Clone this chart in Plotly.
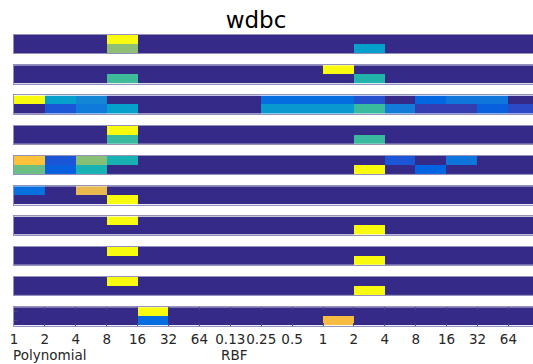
import plotly.graph_objects as go

# ---- data ----
tick_labels = ["1", "2", "4", "8", "16", "32", "64",
               "0.13", "0.25", "0.5", "1", "2", "4", "8", "16", "32", "64"]
title_text = "wdbc"
group_labels = ["Polynomial", "RBF"]

s1_top = [0, 0, 0, 1, 0, 0, 0, 0, 0, 0, 0, 0, 0, 0, 0, 0, 0]
s1_bot = [0, 0, 0, 0.63, 0, 0, 0, 0, 0, 0, 0, 0.35, 0, 0, 0, 0, 0]
s2_top = [0, 0, 0, 0, 0, 0, 0, 0, 0, 0, 1, 0, 0, 0, 0, 0, 0]
s2_bot = [0, 0, 0, 0.52, 0, 0, 0, 0, 0, 0, 0, 0.47, 0, 0, 0, 0, 0]
s3_top = [1, 0.35, 0.26, 0, 0, 0, 0, 0, 0.16, 0.16, 0.16, 0.09, 0, 0.14, 0.20, 0.20, 0]
s3_bot = [0, 0.10, 0.21, 0.35, 0, 0, 0, 0, 0.32, 0.32, 0.32, 0.51, 0.22, 0.05, 0.05, 0.12, 0.08]
s4_top = [0, 0, 0, 1, 0, 0, 0, 0, 0, 0, 0, 0, 0, 0, 0, 0, 0]
s4_bot = [0, 0, 0, 0.51, 0, 0, 0, 0, 0, 0, 0, 0.51, 0, 0, 0, 0, 0]
s5_top = [0.85, 0.10, 0.62, 0.45, 0, 0, 0, 0, 0, 0, 0, 0, 0.10, 0, 0.19, 0, 0]
s5_bot = [0.58, 0.12, 0.45, 0, 0, 0, 0, 0, 0, 0, 0, 1, 0, 0.13, 0, 0, 0]
s6_top = [0.17, 0, 0.79, 0, 0, 0, 0, 0, 0, 0, 0, 0, 0, 0, 0, 0, 0]
s6_bot = [0, 0, 0, 1, 0, 0, 0, 0, 0, 0, 0, 0, 0, 0, 0, 0, 0]
s7_top = [0, 0, 0, 1, 0, 0, 0, 0, 0, 0, 0, 0, 0, 0, 0, 0, 0]
s7_bot = [0, 0, 0, 0, 0, 0, 0, 0, 0, 0, 0, 1, 0, 0, 0, 0, 0]
s8_top = [0, 0, 0, 1, 0, 0, 0, 0, 0, 0, 0, 0, 0, 0, 0, 0, 0]
s8_bot = [0, 0, 0, 0, 0, 0, 0, 0, 0, 0, 0, 1, 0, 0, 0, 0, 0]
s9_top = [0, 0, 0, 1, 0, 0, 0, 0, 0, 0, 0, 0, 0, 0, 0, 0, 0]
s9_bot = [0, 0, 0, 0, 0, 0, 0, 0, 0, 0, 0, 1, 0, 0, 0, 0, 0]
s10_top = [0, 0, 0, 0, 1, 0, 0, 0, 0, 0, 0, 0, 0, 0, 0, 0, 0]
s10_bot = [0, 0, 0, 0, 0.16, 0, 0, 0, 0, 0, 0.83, 0, 0, 0, 0, 0, 0]

strips = [(s1_top, s1_bot), (s2_top, s2_bot), (s3_top, s3_bot), (s4_top, s4_bot),
          (s5_top, s5_bot), (s6_top, s6_bot), (s7_top, s7_bot), (s8_top, s8_bot),
          (s9_top, s9_bot), (s10_top, s10_bot)]

# ---- parula colormap (style) ----
parula = [
    [0.2081, 0.1663, 0.5292], [0.2116, 0.1898, 0.5777], [0.2123, 0.2138, 0.6270],
    [0.2081, 0.2386, 0.6771], [0.1959, 0.2645, 0.7279], [0.1707, 0.2919, 0.7792],
    [0.1253, 0.3242, 0.8303], [0.0591, 0.3598, 0.8683], [0.0117, 0.3875, 0.8820],
    [0.0060, 0.4086, 0.8828], [0.0165, 0.4266, 0.8786], [0.0329, 0.4430, 0.8720],
    [0.0498, 0.4586, 0.8641], [0.0629, 0.4737, 0.8554], [0.0723, 0.4887, 0.8467],
    [0.0779, 0.5040, 0.8384], [0.0793, 0.5200, 0.8312], [0.0749, 0.5375, 0.8263],
    [0.0641, 0.5570, 0.8240], [0.0488, 0.5772, 0.8228], [0.0343, 0.5966, 0.8199],
    [0.0265, 0.6137, 0.8135], [0.0239, 0.6287, 0.8038], [0.0231, 0.6418, 0.7913],
    [0.0228, 0.6535, 0.7768], [0.0267, 0.6642, 0.7607], [0.0384, 0.6743, 0.7436],
    [0.0590, 0.6838, 0.7254], [0.0843, 0.6928, 0.7062], [0.1133, 0.7015, 0.6859],
    [0.1453, 0.7098, 0.6646], [0.1801, 0.7177, 0.6424], [0.2178, 0.7250, 0.6193],
    [0.2586, 0.7317, 0.5954], [0.3022, 0.7376, 0.5712], [0.3482, 0.7424, 0.5473],
    [0.3953, 0.7459, 0.5244], [0.4420, 0.7481, 0.5033], [0.4871, 0.7491, 0.4840],
    [0.5300, 0.7491, 0.4661], [0.5709, 0.7485, 0.4494], [0.6099, 0.7473, 0.4337],
    [0.6473, 0.7456, 0.4188], [0.6834, 0.7435, 0.4044], [0.7184, 0.7411, 0.3905],
    [0.7525, 0.7384, 0.3768], [0.7858, 0.7356, 0.3633], [0.8185, 0.7327, 0.3498],
    [0.8507, 0.7299, 0.3360], [0.8824, 0.7274, 0.3217], [0.9139, 0.7258, 0.3063],
    [0.9450, 0.7261, 0.2886], [0.9739, 0.7314, 0.2666], [0.9938, 0.7455, 0.2403],
    [0.9990, 0.7653, 0.2164], [0.9955, 0.7861, 0.1967], [0.9880, 0.8066, 0.1794],
    [0.9789, 0.8271, 0.1633], [0.9697, 0.8481, 0.1475], [0.9626, 0.8705, 0.1309],
    [0.9589, 0.8949, 0.1132], [0.9598, 0.9218, 0.0948], [0.9661, 0.9514, 0.0755],
    [0.9763, 0.9831, 0.0538]]
n = len(parula)
colorscale = [[i / (n - 1), "rgb(%d,%d,%d)" % tuple(round(c * 255) for c in rgb)]
              for i, rgb in enumerate(parula)]

W, H = 533, 364
left_px = 14
cell_px = 30.9
x_max = (W - left_px) / cell_px

top0 = 35.0
pitch = 30.24
strip_h = 18.4

fig = go.Figure()
border = "#9391bd"
tick_font = dict(family="DejaVu Sans", size=13.5, color="#262626")
layout = {}
for k, (top, bot) in enumerate(strips):
    idx = "" if k == 0 else str(k + 1)
    fig.add_trace(go.Heatmap(
        z=[top, bot], x0=0.5, dx=1, y=[0, 1],
        colorscale=colorscale, zmin=0, zmax=1, showscale=False,
        xaxis="x" + idx, yaxis="y" + idx, hoverinfo="skip"))
    t_px = top0 + k * pitch
    b_px = t_px + strip_h
    last = (k == len(strips) - 1)
    layout["xaxis" + idx] = dict(
        domain=[0, 1], range=[0, x_max], anchor="y" + idx,
        showgrid=False, zeroline=False, showline=True, linecolor=border,
        linewidth=1, mirror=("ticks" if last else True),
        tickvals=list(range(len(tick_labels))) if last else [],
        ticktext=tick_labels if last else [],
        ticks="inside" if last else "", ticklen=3, tickcolor="#4a4878", tickwidth=1,
        showticklabels=last, tickangle=0, ticklabelstandoff=1,
        tickfont=tick_font, fixedrange=True)
    layout["yaxis" + idx] = dict(
        domain=[1 - b_px / H, 1 - t_px / H], range=[1.5, -0.5], anchor="x" + idx,
        showgrid=False, zeroline=False, showline=True, linecolor=border,
        linewidth=1, mirror=False,
        tickvals=[0, 1] if last else [], ticks="inside" if last else "",
        ticklen=3, tickcolor="#4a4878", showticklabels=False, fixedrange=True)

fig.update_layout(**layout)
fig.update_layout(
    width=W, height=H,
    margin=dict(l=left_px, r=0, t=0, b=0),
    paper_bgcolor="white", plot_bgcolor="white",
    showlegend=False,
    title=dict(text=title_text, x=256 / W, xanchor="center",
               y=1 - 20 / H, yanchor="middle", yref="container",
               font=dict(family="DejaVu Sans", size=23, color="black")),
    annotations=[
        dict(text=group_labels[0], xref="paper", yref="paper",
             x=(11 - left_px) / (W - left_px), y=1 - 355 / H,
             xanchor="left", yanchor="middle", showarrow=False,
             font=tick_font),
        dict(text=group_labels[1], xref="paper", yref="paper",
             x=(219 - left_px) / (W - left_px), y=1 - 355 / H,
             xanchor="left", yanchor="middle", showarrow=False,
             font=tick_font),
    ],
)

fig.write_html("out.html")
